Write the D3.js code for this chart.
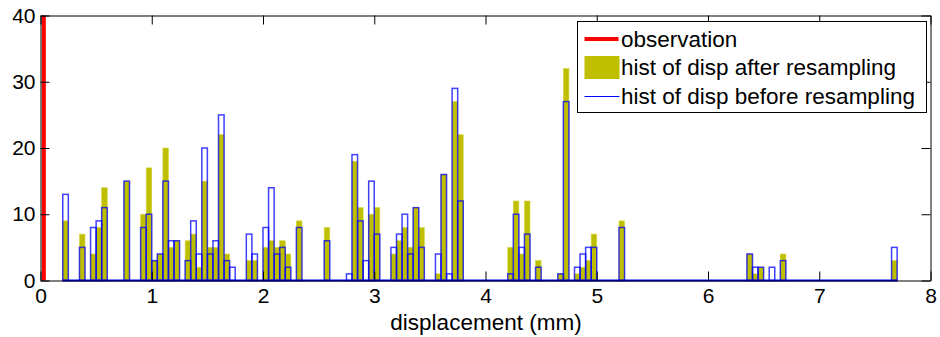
<!DOCTYPE html>
<html>
<head>
<meta charset="utf-8">
<script src="https://cdn.jsdelivr.net/npm/d3@7/dist/d3.min.js"></script>
<style>
  body { margin: 0; background: #fff; }
  svg { display: block; font-family: "Liberation Sans", Arial, sans-serif; }
  .axis path, .axis line { stroke: #000; }
  .axis text { fill: #000; font-size: 21px; font-family: "Liberation Sans", Arial, sans-serif; }
</style>
</head>
<body>
<svg width="940" height="337"></svg>
<script>
// left edge of each histogram bin (mm), bin width 0.05
var binStarts = [0.20, 0.35, 0.45, 0.50, 0.55, 0.75, 0.90, 0.95, 1.00, 1.05,
    1.10, 1.15, 1.20, 1.30, 1.35, 1.40, 1.45, 1.50, 1.55, 1.60,
    1.65, 1.70, 1.85, 1.90, 2.00, 2.05, 2.10, 2.15, 2.20, 2.30,
    2.55, 2.75, 2.80, 2.85, 2.90, 2.95, 3.00, 3.15, 3.20, 3.25,
    3.30, 3.35, 3.40, 3.55, 3.60, 3.65, 3.70, 3.75, 4.20, 4.25,
    4.30, 4.35, 4.45, 4.65, 4.70, 4.80, 4.85, 4.90, 4.95, 5.20,
    6.35, 6.40, 6.45, 6.55, 6.65, 7.65];
// counts after resampling
var afterCounts = [9, 7, 4, 8, 14, 15, 10, 17, 3, 4,
    20, 5, 6, 6, 7, 2, 15, 5, 5, 22,
    4, 0, 3, 3, 5, 6, 5, 6, 4, 9,
    8, 0, 18, 11, 0, 10, 11, 4, 6, 8,
    5, 11, 8, 1, 16, 0, 27, 22, 5, 12,
    4, 12, 3, 1, 32, 1, 2, 3, 7, 9,
    4, 1, 2, 0, 4, 3];
// counts before resampling
var beforeCounts = [13, 5, 8, 9, 11, 15, 8, 10, 3, 4,
    15, 6, 6, 3, 9, 4, 20, 4, 6, 25,
    3, 2, 7, 4, 8, 14, 4, 5, 2, 8,
    6, 1, 19, 9, 3, 15, 7, 5, 7, 10,
    4, 11, 5, 4, 16, 1, 29, 12, 1, 10,
    5, 7, 2, 1, 27, 2, 4, 5, 5, 8,
    4, 2, 2, 2, 3, 5];
var binWidth = 0.05;
var observation = 0.03;

var xTicks = [0, 1, 2, 3, 4, 5, 6, 7, 8];
var yTicks = [0, 10, 20, 30, 40];
var legendLabels = ["observation", "hist of disp after resampling", "hist of disp before resampling"];

var svg = d3.select("svg");
// 绘图区的边界
var pLeft = 40.5, pRight = 930.5, pTop = 15.5, pBottom = 280.5;

var x = d3.scaleLinear().domain([0, 8]).range([pLeft, pRight]);
var y = d3.scaleLinear().domain([0, 40]).range([pBottom, pTop]);

var bins = binStarts.map(function (s, i) {
    return {x0: s, x1: s + binWidth, after: afterCounts[i], before: beforeCounts[i]};
});

// after resampling: filled bars
svg.append("g").selectAll("rect")
    .data(bins.filter(function (d) { return d.after > 0; }))
    .enter().append("rect")
    .attr("x", function (d) { return x(d.x0); })
    .attr("y", function (d) { return y(d.after); })
    .attr("width", function (d) { return x(d.x1) - x(d.x0); })
    .attr("height", function (d) { return y(0) - y(d.after); })
    .attr("fill", "#bfbf00")
    .attr("stroke", "#d4d440")
    .attr("stroke-width", 0.6);

// before resampling: outline only
svg.append("line")
    .attr("x1", x(d3.min(binStarts)))
    .attr("x2", x(d3.max(binStarts) + binWidth))
    .attr("y1", y(0))
    .attr("y2", y(0))
    .attr("stroke", "#0000ff")
    .attr("stroke-width", 2);

svg.append("g").selectAll("rect")
    .data(bins.filter(function (d) { return d.before > 0; }))
    .enter().append("rect")
    .attr("x", function (d) { return x(d.x0); })
    .attr("y", function (d) { return y(d.before); })
    .attr("width", function (d) { return x(d.x1) - x(d.x0); })
    .attr("height", function (d) { return y(0) - y(d.before); })
    .attr("fill", "none")
    .attr("stroke", "#0000ff")
    .attr("stroke-opacity", 0.75)
    .attr("stroke-width", 1.5);

// observation line
svg.append("line")
    .attr("x1", x(observation))
    .attr("x2", x(observation))
    .attr("y1", y(0))
    .attr("y2", y(40))
    .attr("stroke", "#ff0000")
    .attr("stroke-width", 4);

// 坐标轴（刻度朝内，四边都有）
svg.append("g")
    .attr("class", "axis")
    .attr("transform", "translate(0," + pBottom + ")")
    .call(d3.axisBottom(x).tickValues(xTicks).tickSize(-9).tickSizeOuter(0).tickPadding(8));
svg.append("g")
    .attr("class", "axis")
    .attr("transform", "translate(0," + pTop + ")")
    .call(d3.axisTop(x).tickValues(xTicks).tickSize(-9).tickSizeOuter(0).tickFormat(""));
svg.append("g")
    .attr("class", "axis")
    .attr("transform", "translate(" + pLeft + ",0)")
    .call(d3.axisLeft(y).tickValues(yTicks).tickSize(-9).tickSizeOuter(0).tickPadding(5));
svg.append("g")
    .attr("class", "axis")
    .attr("transform", "translate(" + pRight + ",0)")
    .call(d3.axisRight(y).tickValues(yTicks).tickSize(-9).tickSizeOuter(0).tickFormat(""));

svg.append("text")
    .attr("x", 486)
    .attr("y", 330)
    .attr("text-anchor", "middle")
    .attr("font-size", 22.5)
    .text("displacement (mm)");

// legend
var lg = svg.append("g").attr("transform", "translate(577.5,21.5)");
lg.append("rect")
    .attr("width", 349).attr("height", 91)
    .attr("fill", "#fff").attr("stroke", "#000");
var rowY = [17.5, 46, 75];
lg.append("line")
    .attr("x1", 7).attr("x2", 41).attr("y1", rowY[0]).attr("y2", rowY[0])
    .attr("stroke", "#ff0000").attr("stroke-width", 4);
lg.append("rect")
    .attr("x", 7).attr("y", rowY[1] - 11.5).attr("width", 35).attr("height", 23)
    .attr("fill", "#bfbf00");
lg.append("line")
    .attr("x1", 7).attr("x2", 42).attr("y1", rowY[2]).attr("y2", rowY[2])
    .attr("stroke", "#0000ff").attr("stroke-width", 1);
lg.selectAll(".lab")
    .data(legendLabels)
    .enter().append("text")
    .attr("class", "lab")
    .attr("x", 43.5)
    .attr("y", function (d, i) { return rowY[i]; })
    .attr("dy", "0.35em")
    .attr("font-size", 22.5)
    .text(function (d) { return d; });
</script>
</body>
</html>
